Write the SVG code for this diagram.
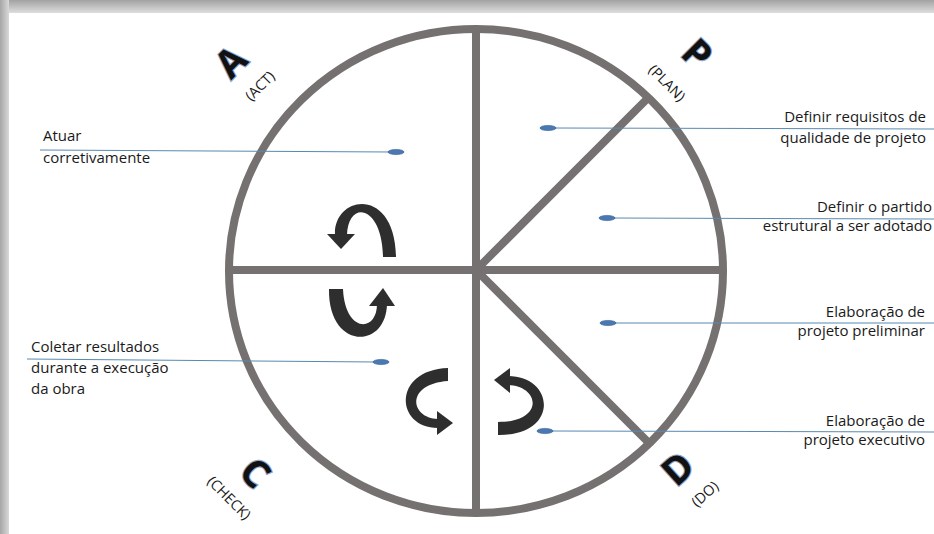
<svg xmlns="http://www.w3.org/2000/svg" width="934" height="534" viewBox="0 0 934 534">
<defs>
<linearGradient id="gTop" x1="0" y1="0" x2="0" y2="1">
<stop offset="0" stop-color="#a2a2a2"/><stop offset="1" stop-color="#dedede"/>
</linearGradient>
<linearGradient id="gLeft" x1="0" y1="0" x2="1" y2="0">
<stop offset="0" stop-color="#a6a6a6"/><stop offset="1" stop-color="#d9d9d9"/>
</linearGradient>
<style>
.rim{fill:none;stroke:#767171;stroke-width:8}
.div{stroke:#767171;stroke-width:8;stroke-linecap:butt}
.arr{fill:#2e2e2e}
.lead{stroke:#5a8ab0;stroke-width:1.1;fill:none}
.dot{fill:#4a78b0;stroke:#2f5c94;stroke-width:0.6}
.t{font-family:"Open Sans","Liberation Sans",sans-serif;font-size:15px;fill:#1a1a1a}
.big{font-family:"Open Sans","Liberation Sans",sans-serif;font-size:38px;font-weight:bold;fill:#111;stroke:#8fa3c7;stroke-width:2.2;paint-order:stroke;text-anchor:middle}
.sm{font-family:"Open Sans","Liberation Sans",sans-serif;font-size:14.5px;fill:#1a1a1a;text-anchor:middle}
</style>
</defs>
<g id="background">
<rect x="0" y="0" width="934" height="534" fill="#d0d0d0"/>
<rect x="0" y="0" width="934" height="13" fill="url(#gTop)"/>
<rect x="0" y="0" width="9" height="534" fill="url(#gLeft)"/>
<rect x="9" y="13" width="925" height="521" fill="#ffffff"/>
</g>
<g id="cycle">
<ellipse class="rim" cx="476" cy="271" rx="247" ry="242"/>
<line class="div" x1="229" y1="270" x2="723" y2="270"/>
<line class="div" x1="476" y1="29" x2="476" y2="513"/>
<line class="div" x1="476" y1="270" x2="648" y2="98"/>
<line class="div" x1="476" y1="270" x2="650" y2="444"/>
</g>
<g id="arrows">
<path class="arr" d="M335,235 C333,195 395,185 396,257 L383,257 C382,204 348,200 347,235 Z"/>
<polygon class="arr" points="327,234 355,234 341,249"/>
<path class="arr" d="M329,289 C328,350 386,350 387,304 L377,304 C377,333 345,333 343,289 Z"/>
<polygon class="arr" points="369,306 395,306 383,288"/>
<path class="arr" d="M448,368 C392,370 395,428 438,428 L438,419 C410,418 405,384 448,381 Z"/>
<polygon class="arr" points="437,411 437,435 453,423"/>
<path class="arr" d="M508,376 C555,376 560,436 498,435 L498,422 C545,422 540,386 508,385 Z"/>
<polygon class="arr" points="510,368 510,393 494,380"/>
</g>
<g id="connectors">
<line class="lead" x1="40" y1="150" x2="392" y2="152"/>
<line class="lead" x1="27" y1="359" x2="377" y2="362"/>
<line class="lead" x1="552" y1="128" x2="934" y2="129"/>
<line class="lead" x1="611" y1="218" x2="934" y2="219"/>
<line class="lead" x1="612" y1="323" x2="934" y2="323"/>
<line class="lead" x1="549" y1="431" x2="934" y2="432"/>
<ellipse class="dot" cx="396" cy="152" rx="8" ry="2.6"/>
<ellipse class="dot" cx="381" cy="362" rx="8" ry="2.6"/>
<ellipse class="dot" cx="548" cy="128" rx="8" ry="2.6"/>
<ellipse class="dot" cx="607" cy="218" rx="8" ry="2.6"/>
<ellipse class="dot" cx="608" cy="323" rx="8" ry="2.6"/>
<ellipse class="dot" cx="545" cy="431" rx="8" ry="2.6"/>
</g>
<g id="label-act">
<text class="t" x="43" y="141">Atuar</text>
<text class="t" x="43" y="163">corretivamente</text>
</g>
<g id="label-check">
<text class="t" x="31" y="352">Coletar resultados</text>
<text class="t" x="31" y="373">durante a execução</text>
<text class="t" x="31" y="394">da obra</text>
</g>
<g id="label-plan1">
<text class="t" x="926" y="122" text-anchor="end">Definir requisitos de</text>
<text class="t" x="926" y="143" text-anchor="end">qualidade de projeto</text>
</g>
<g id="label-plan2">
<text class="t" x="932" y="212" text-anchor="end">Definir o partido</text>
<text class="t" x="932" y="231" text-anchor="end">estrutural a ser adotado</text>
</g>
<g id="label-do1">
<text class="t" x="925" y="317" text-anchor="end">Elaboração de</text>
<text class="t" x="925" y="336" text-anchor="end">projeto preliminar</text>
</g>
<g id="label-do2">
<text class="t" x="925" y="426" text-anchor="end">Elaboração de</text>
<text class="t" x="925" y="445" text-anchor="end">projeto executivo</text>
</g>
<g id="phase-a" transform="translate(231,62) rotate(-45)">
<text class="big" x="0" y="13">A</text>
</g>
<g id="phase-a-sub" transform="translate(260,86) rotate(-45)">
<text class="sm" x="0" y="5">(ACT)</text>
</g>
<g id="phase-p" transform="translate(697,54) rotate(45)">
<text class="big" x="0" y="13">P</text>
</g>
<g id="phase-p-sub" transform="translate(667,83) rotate(45)">
<text class="sm" x="0" y="5">(PLAN)</text>
</g>
<g id="phase-c" transform="translate(255,473) rotate(45)">
<text class="big" x="0" y="13">C</text>
</g>
<g id="phase-c-sub" transform="translate(229,498) rotate(45)">
<text class="sm" x="0" y="5">(CHECK)</text>
</g>
<g id="phase-d" transform="translate(678,469) rotate(-42)">
<text class="big" x="0" y="13">D</text>
</g>
<g id="phase-d-sub" transform="translate(705,494) rotate(-42)">
<text class="sm" x="0" y="5">(DO)</text>
</g>
</svg>
